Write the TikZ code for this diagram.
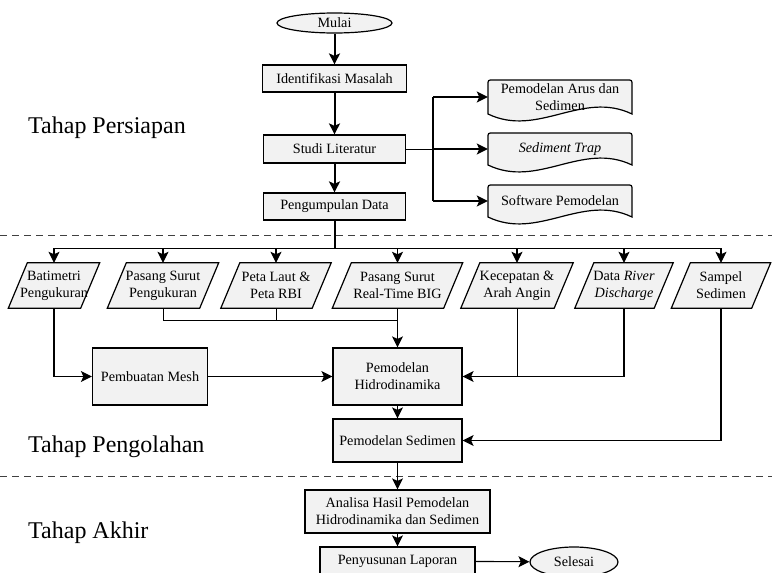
\documentclass[tikz,border=0pt]{standalone}
\usepackage{fontspec}
\setmainfont{Liberation Serif}
\usetikzlibrary{shapes.geometric,arrows.meta,backgrounds}
\definecolor{boxfill}{HTML}{F2F2F2}
\newcommand{\boxfont}{\fontsize{14.2}{16.8}\selectfont}
\newcommand{\stagefont}{\fontsize{24}{28}\selectfont}
\newcommand{\paranode}[4]{%
  \node[plaintext,minimum width=#3,minimum height=45] (#1) at (#2,285.5) {#4};
  \begin{pgfonlayer}{background}
  \filldraw[boxline] ([xshift=9.5pt]#1.north west) -- ([xshift=9.5pt]#1.north east) -- ([xshift=-9.5pt]#1.south east) -- ([xshift=-9.5pt]#1.south west) -- cycle;
  \end{pgfonlayer}}
\newcommand{\docnode}[5]{%
  \filldraw[boxline] ({#2-72},{#3+#4/2}) -- ({#2-72},{#3-#4/2+5}) .. controls ({#2-72},{#3-#4/2}) .. ({#2-67},{#3-#4/2}) -- ({#2+67},{#3-#4/2}) .. controls ({#2+72},{#3-#4/2}) .. ({#2+72},{#3-#4/2+5}) -- ({#2+72},{#3+#4/2}) .. controls ({#2+22},{#3+#4/2-24}) and ({#2-22},{#3+#4/2+24}) .. ({#2-72},{#3+#4/2}) -- cycle;
  \node[plaintext,minimum width=144,minimum height=#4] (#1) at (#2,#3) {#5};}
\begin{document}
\begin{tikzpicture}[x=1pt,y=-1pt,
  boxline/.style={draw=black,line width=1.2pt,fill=boxfill},
  procbox/.style={boxline,rectangle,inner sep=0pt,align=center,font=\boxfont},
  termbox/.style={boxline,ellipse,inner sep=0pt,font=\boxfont},
  plaintext/.style={inner sep=0pt,align=center,font=\boxfont},
  arr/.style={-{Stealth[length=11pt,width=11pt,inset=2.5pt]},line width=1.1pt},
  thickarr/.style={arr,line width=2pt},
  link/.style={line width=1pt},
  thicklink/.style={line width=2pt},
  dashline/.style={draw=black!75,line width=1pt,dash pattern=on 7pt off 5pt},
  stage/.style={anchor=base west,inner sep=0pt,font=\stagefont}]
\useasboundingbox (0,0) rectangle (772,573);

\draw[dashline] (0,235) -- (772,235);
\draw[dashline] (0,476) -- (772,476);

\node[stage] (s1) at (28,133) {Tahap Persiapan};
\node[stage] (s2) at (28,452) {Tahap Pengolahan};
\node[stage] (s3) at (28,538) {Tahap Akhir};

\node[termbox,minimum width=115,minimum height=20] (mulai) at (334.5,23) {Mulai};
\node[procbox,minimum width=144,minimum height=27] (ident) at (334.5,78.5) {Identifikasi Masalah};
\node[procbox,minimum width=142,minimum height=28] (studi) at (334.5,149) {Studi Literatur};
\node[procbox,minimum width=142,minimum height=27] (peng) at (334.5,206.5) {Pengumpulan Data};

\docnode{d1}{560}{97}{34}{Pemodelan Arus dan\\Sedimen}
\docnode{d2}{560}{149}{32}{\textit{Sediment Trap}}
\docnode{d3}{560}{201}{32}{Software Pemodelan}

\paranode{p1}{54}{72}{Batimetri\\Pengukuran}
\paranode{p2}{163}{92}{Pasang Surut\\Pengukuran}
\paranode{p3}{276}{91}{Peta Laut \&\\Peta RBI}
\paranode{p4}{397.5}{111}{Pasang Surut\\Real-Time BIG}
\paranode{p5}{517}{93}{Kecepatan \&\\Arah Angin}
\paranode{p6}{624}{79}{Data \textit{River}\\\textit{Discharge}}
\paranode{p7}{721}{80}{Sampel\\Sedimen}

\node[procbox,minimum width=115,minimum height=57] (mesh) at (150,376.5) {Pembuatan Mesh};
\node[procbox,minimum width=129,minimum height=57] (hidro) at (397.5,376.5) {Pemodelan\\Hidrodinamika};
\node[procbox,minimum width=129,minimum height=43] (sed) at (397.5,440.5) {Pemodelan Sedimen};
\node[procbox,minimum width=185,minimum height=43] (anal) at (397.5,511.5) {Analisa Hasil Pemodelan\\Hidrodinamika dan Sedimen};
\node[procbox,minimum width=155,minimum height=28] (lapor) at (397.5,561) {Penyusunan Laporan};
\node[termbox,minimum width=88,minimum height=30] (selesai) at (574,562) {Selesai};

\draw[thickarr] (mulai) -- (ident);
\draw[thickarr] (ident) -- (studi);
\draw[thickarr] (studi) -- (peng);

\coordinate (br) at (433,149);
\draw[link] (studi.east) -- (br);
\draw[thicklink] (br |- d1.west) -- (br |- d3.west);
\foreach \d in {d1,d2,d3} \draw[thickarr] (br |- \d.west) -- (\d.west);

\coordinate (bus) at (334.5,248);
\draw[thicklink] (peng.south) -- (bus);
\draw[link] (p1.north |- bus) -- (p7.north |- bus);
\foreach \p in {p1,p2,p3,p4,p5,p6,p7} \draw[arr] (\p.north |- bus) -- (\p.north);

\coordinate (j) at (397.5,320);
\draw[arr] (p1.south) |- (mesh.west);
\draw[arr] (mesh) -- (hidro);
\draw[link] (p2.south) |- (j);
\draw[link] (p3.south) -- (p3.south |- j);
\draw[arr] (p4.south) -- (hidro.north);
\draw[arr] (p6.south) |- (hidro.east);
\draw[link] (p5.south) -- (p5.south |- hidro.east);
\draw[arr] (hidro) -- (sed);
\draw[arr] (p7.south) |- (sed.east);
\draw[arr] (sed) -- (anal);
\draw[arr] (anal) -- (lapor);
\draw[arr] (lapor) -- (selesai);
\end{tikzpicture}
\end{document}
